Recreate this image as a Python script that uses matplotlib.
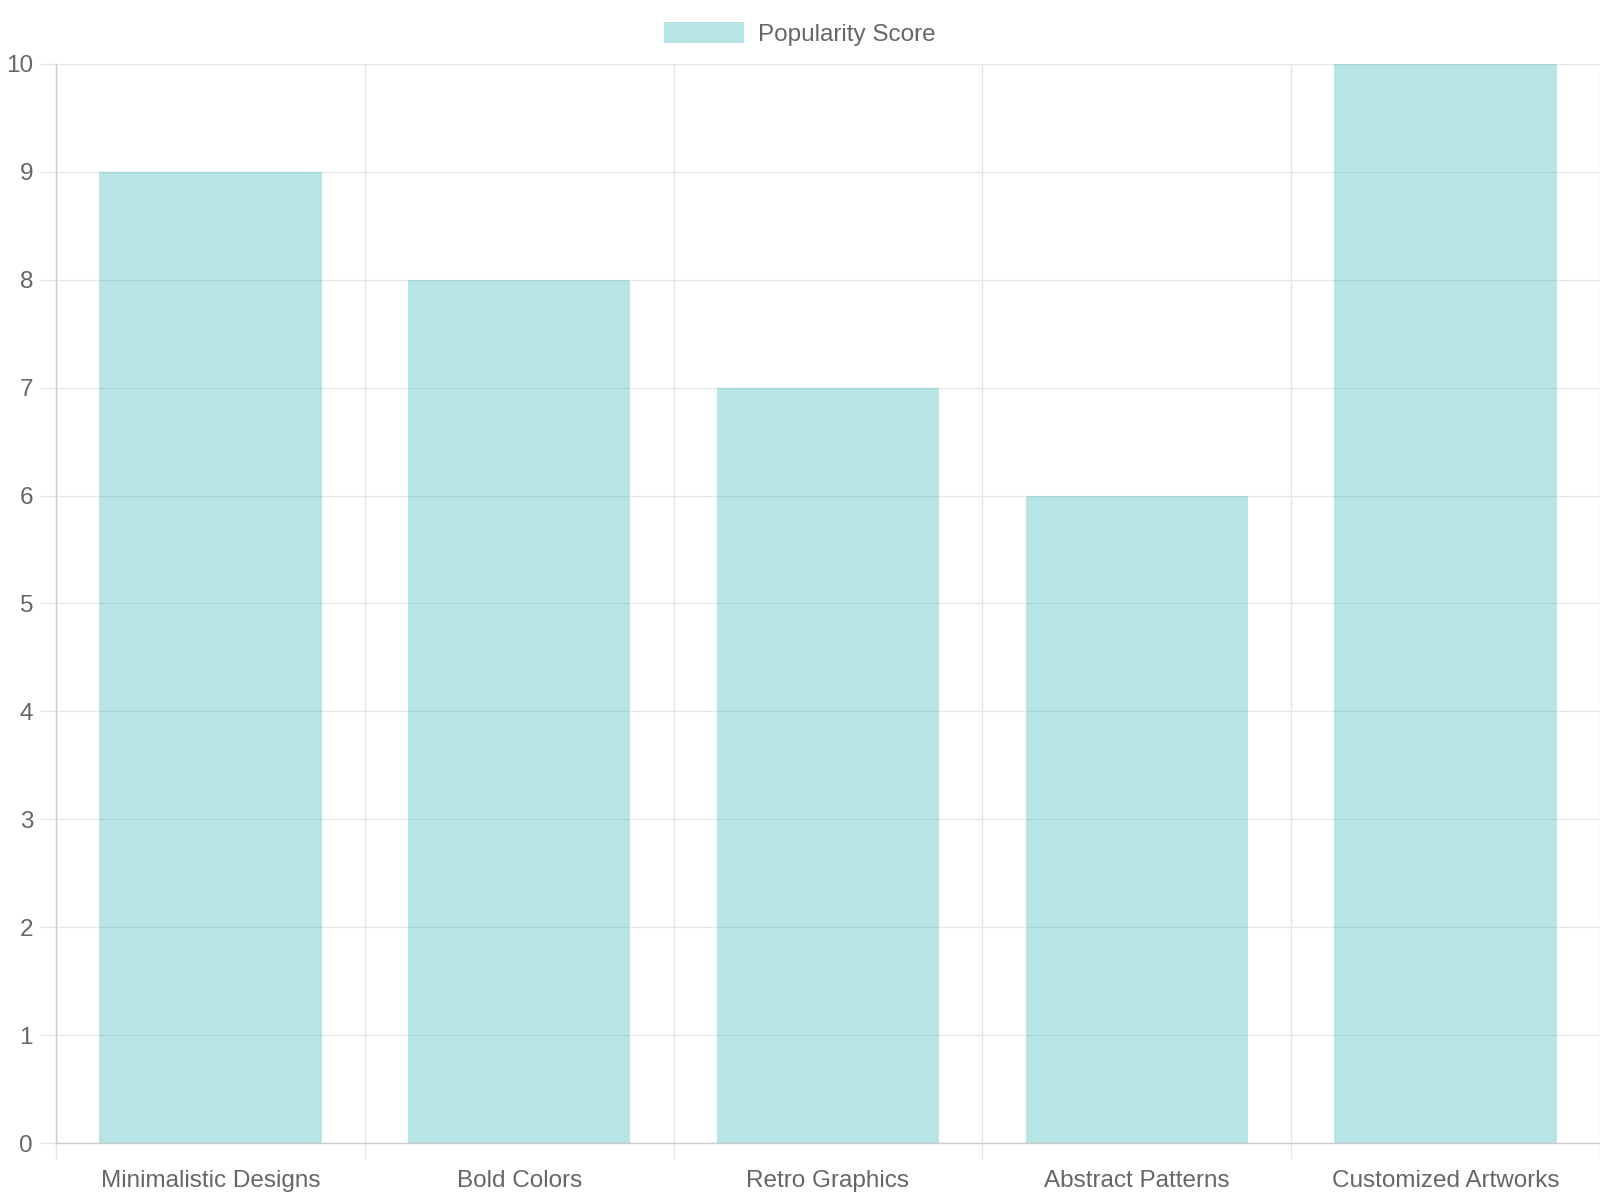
import numpy as np
import matplotlib
matplotlib.use("Agg")
import matplotlib.pyplot as plt
from matplotlib.ticker import FixedLocator

plt.rcParams['font.family'] = ['Liberation Sans', 'DejaVu Sans']

# データ
categories = ["Minimalistic Designs", "Bold Colors", "Retro Graphics",
              "Abstract Patterns", "Customized Artworks"]
scores = [9, 8, 7, 6, 10]
series_name = "Popularity Score"

bar_face = (75/255, 192/255, 192/255, 0.4)
grid_c = "#e6e6e6"
text_c = "#666666"

fig = plt.figure(figsize=(16, 12), dpi=100)
ax = fig.add_axes([0.035, 0.0475, 0.965, 0.8992])

x = np.arange(len(categories))
ax.bar(x, scores, width=0.72, color=bar_face, linewidth=0,
       label=series_name, zorder=1)

ax.set_xlim(-0.5, len(categories) - 0.5)
ax.set_ylim(0, 10)
ax.set_yticks(range(0, 11))

# 目盛り
ax.set_xticks(x)
ax.set_xticklabels(categories)
ax.xaxis.set_minor_locator(FixedLocator(np.arange(-0.5, len(categories), 1)))
ax.tick_params(axis="x", which="major", length=0, pad=19.5, labelsize=17.5, labelcolor=text_c)
ax.tick_params(axis="x", which="minor", length=11.5, width=1, color=grid_c)
ax.tick_params(axis="y", length=11.5, width=1, color=grid_c, pad=5,
               labelsize=17.5, labelcolor=text_c)

ax.grid(axis="y", which="major", color=grid_c, linewidth=1, zorder=0)
ax.grid(axis="x", which="minor", color=grid_c, linewidth=1, zorder=0)
ax.set_axisbelow(True)

for s in ["top", "right"]:
    ax.spines[s].set_visible(False)
for s in ["left", "bottom"]:
    ax.spines[s].set_color("#cccccc")
    ax.spines[s].set_linewidth(1)

# 凡例
leg = fig.legend(loc="center", bbox_to_anchor=(0.5, 0.9715), frameon=False,
                 fontsize=17.5, handlelength=3.3, handleheight=0.95,
                 handletextpad=0.58, labelcolor=text_c)

plt.savefig("out.png", dpi=100)
plt.close()
